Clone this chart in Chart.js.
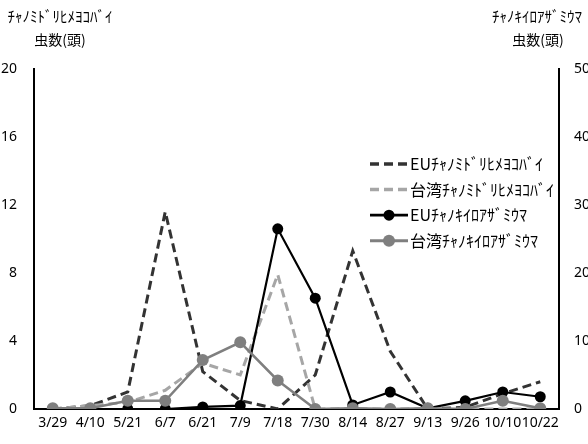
<!DOCTYPE html>
<html lang="ja">
<head>
<meta charset="UTF-8">
<title>chart</title>
<script src="https://cdn.jsdelivr.net/npm/chart.js"></script>
<style>
  html, body { margin: 0; padding: 0; background: #fff; }
  #wrap { width: 588px; height: 444px; }
</style>
</head>
<body>
<div id="wrap"><canvas id="myChart" width="588" height="444"></canvas></div>
<script>
const dates = ['3/29', '4/10', '5/21', '6/7', '6/21', '7/9', '7/18', '7/30', '8/14', '8/27', '9/13', '9/26', '10/10', '10/22'];
// left axis (ﾖｺﾊﾞｲ)
const euLeafhopper = [0, 0.2, 1.0, 11.6, 2.2, 0.5, 0, 2.0, 9.3, 3.4, 0, 0.1, 0.9, 1.6];
const twLeafhopper = [0, 0.2, 0.4, 1.1, 2.7, 2.0, 7.9, 0, 0, 0, 0, 0, 0, 0];
// right axis (ｱｻﾞﾐｳﾏ)
const euThrips = [0, 0, 0, 0, 0.3, 0.5, 26.5, 16.3, 0.6, 2.5, 0.1, 1.2, 2.5, 1.8];
const twThrips = [0.1, 0.1, 1.2, 1.2, 7.2, 9.8, 4.2, 0, 0.1, 0, 0.1, 0, 1.2, 0.1];

const seriesNames = ['EUﾁｬﾉﾐﾄﾞﾘﾋﾒﾖｺﾊﾞｲ', '台湾ﾁｬﾉﾐﾄﾞﾘﾋﾒﾖｺﾊﾞｲ', 'EUﾁｬﾉｷｲﾛｱｻﾞﾐｳﾏ', '台湾ﾁｬﾉｷｲﾛｱｻﾞﾐｳﾏ'];
const leftTicks = [0, 4, 8, 12, 16, 20];
const rightTicks = [0, 10, 20, 30, 40, 50];

const jpFont = "'Noto Sans CJK JP', sans-serif";
const numFont = "'Noto Sans', sans-serif";

// axis titles + legend drawn inside the plot
const extras = {
  id: 'extras',
  afterDraw(chart) {
    const ctx = chart.ctx;
    const area = chart.chartArea;
    ctx.save();
    ctx.fillStyle = '#000';
    ctx.textAlign = 'center';
    ctx.textBaseline = 'middle';
    ctx.font = '15px ' + jpFont;
    ctx.fillText('ﾁｬﾉﾐﾄﾞﾘﾋﾒﾖｺﾊﾞｲ', 60, 16);
    ctx.fillText('ﾁｬﾉｷｲﾛｱｻﾞﾐｳﾏ', 537, 16);
    ctx.font = '14px ' + jpFont;
    ctx.fillText('虫数(頭)', 60, 40);
    ctx.fillText('虫数(頭)', 538, 40);

    // legend
    const x0 = area.right - 189;
    let y = area.top + 95;
    ctx.textAlign = 'left';
    ctx.font = '16px ' + jpFont;
    chart.data.datasets.forEach(ds => {
      ctx.save();
      ctx.strokeStyle = ds.borderColor;
      ctx.lineWidth = ds.borderWidth + 0.5;
      ctx.setLineDash(ds.borderDash || []);
      ctx.beginPath();
      ctx.moveTo(x0, y);
      ctx.lineTo(x0 + 38, y);
      ctx.stroke();
      ctx.restore();
      if (ds.pointRadius > 0) {
        ctx.beginPath();
        ctx.fillStyle = ds.pointBackgroundColor;
        ctx.arc(x0 + 19, y, ds.pointRadius, 0, Math.PI * 2);
        ctx.fill();
      }
      ctx.fillStyle = '#000';
      ctx.fillText(ds.label, x0 + 40, y);
      y += 25.6;
    });
    ctx.restore();
  }
};

new Chart(document.getElementById('myChart'), {
  type: 'line',
  data: {
    labels: dates,
    datasets: [
      {
        label: seriesNames[0], data: euLeafhopper, yAxisID: 'y', order: 4,
        borderColor: '#333333', borderWidth: 3, borderDash: [9, 5], pointRadius: 0
      },
      {
        label: seriesNames[1], data: twLeafhopper, yAxisID: 'y', order: 3,
        borderColor: '#a6a6a6', borderWidth: 3, borderDash: [9, 5], pointRadius: 0
      },
      {
        label: seriesNames[2], data: euThrips, yAxisID: 'y1', order: 2,
        borderColor: '#000000', borderWidth: 2.2, pointRadius: 5.5,
        pointBackgroundColor: '#000000', pointBorderColor: '#000000', pointBorderWidth: 0
      },
      {
        label: seriesNames[3], data: twThrips, yAxisID: 'y1', order: 1,
        borderColor: '#7f7f7f', borderWidth: 2.5, pointRadius: 6,
        pointBackgroundColor: '#7f7f7f', pointBorderColor: '#7f7f7f', pointBorderWidth: 0
      }
    ]
  },
  options: {
    responsive: false,
    animation: false,
    layout: { padding: { top: 69, left: 0, right: 0, bottom: 0 } },
    elements: { line: { tension: 0 } },
    plugins: { legend: { display: false }, tooltip: { enabled: false } },
    scales: {
      x: {
        offset: true,
        grid: { display: false, drawTicks: false },
        border: { display: true, color: '#000', width: 2 },
        ticks: { color: '#000', font: { family: numFont, size: 14 }, padding: 6, autoSkip: false, maxRotation: 0, minRotation: 0 },
        afterFit(s) { s.height = 35; }
      },
      y: {
        position: 'left', min: 0, max: 20,
        grid: { display: false, drawTicks: false },
        border: { display: true, color: '#000', width: 2 },
        afterBuildTicks(s) { s.ticks = leftTicks.map(v => ({ value: v })); },
        ticks: { color: '#000', font: { family: numFont, size: 14 }, padding: 17 },
        afterFit(s) { s.width = 34; }
      },
      y1: {
        position: 'right', min: 0, max: 50,
        grid: { display: false, drawTicks: false },
        border: { display: true, color: '#000', width: 2 },
        afterBuildTicks(s) { s.ticks = rightTicks.map(v => ({ value: v })); },
        ticks: { color: '#000', font: { family: numFont, size: 14 }, padding: 15 },
        afterFit(s) { s.width = 29; }
      }
    }
  },
  plugins: [extras]
});
</script>
</body>
</html>
